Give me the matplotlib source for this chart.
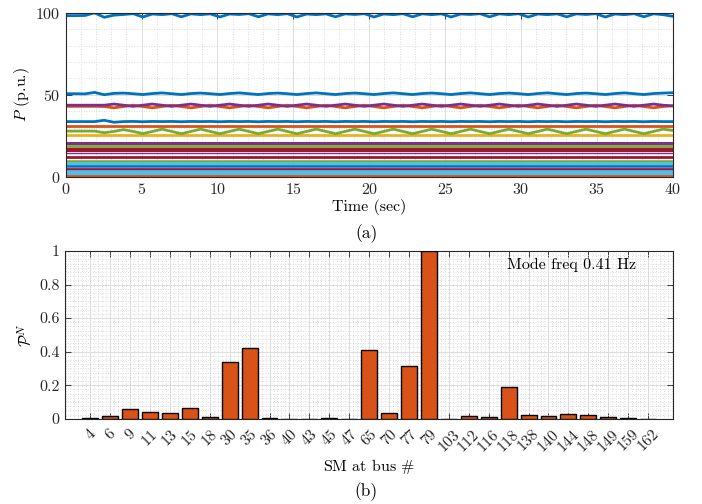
import numpy as np
import matplotlib.pyplot as plt
from matplotlib.ticker import MultipleLocator

plt.rcParams['font.family'] = ['cmr10', 'DejaVu Serif']
plt.rcParams['mathtext.fontset'] = 'cm'
plt.rcParams['axes.formatter.use_mathtext'] = True
plt.rcParams['font.size'] = 11.5

# matlab default colours
blue = '#0072BD'
orange = '#D95319'
yellow = '#EDB120'
purple = '#7E2F8E'
green = '#77AC30'
lblue = '#4DBEEE'
dred = '#A2142F'

# ---- (a) machine powers ----
t_osc = np.linspace(0, 40, 64)   # sample times
p_98 = [98.2, 98.2, 98.3, 99.9, 97.2, 98.5, 98.9, 99.4,
        97.4, 99.2, 98.8, 99.4, 97.5, 99.3, 98.8, 99.3,
        97.4, 99.2, 98.9, 99.4, 97.5, 99.3, 98.8, 99.4,
        97.4, 99.2, 98.8, 99.3, 97.5, 99.3, 98.9, 99.4,
        97.4, 99.2, 98.8, 99.4, 97.5, 99.3, 98.8, 99.3,
        97.4, 99.2, 98.9, 99.4, 97.5, 99.3, 98.8, 99.4,
        97.4, 99.2, 98.8, 99.3, 97.5, 99.3, 98.9, 99.4,
        97.4, 99.2, 98.8, 99.4, 97.5, 99.3, 98.8, 97.8]
p_50 = [50.6, 50.6, 50.5, 51.4, 50.0, 50.8, 51.0, 50.6,
        50.1, 50.7, 51.1, 50.6, 50.1, 50.7, 51.0, 50.6,
        50.1, 50.7, 51.1, 50.6, 50.1, 50.7, 51.0, 50.6,
        50.1, 50.7, 51.1, 50.6, 50.1, 50.7, 51.0, 50.6,
        50.1, 50.7, 51.1, 50.6, 50.1, 50.7, 51.0, 50.6,
        50.1, 50.7, 51.1, 50.6, 50.1, 50.7, 51.0, 50.6,
        50.1, 50.7, 51.1, 50.6, 50.1, 50.7, 51.0, 50.6,
        50.1, 50.7, 51.1, 50.6, 50.1, 50.7, 51.0, 51.2]
p_44 = [43.6, 43.6, 43.6, 43.6, 43.6, 44.3, 43.6, 42.9,
        43.6, 44.3, 43.6, 42.9, 43.6, 44.3, 43.6, 42.9,
        43.6, 44.3, 43.6, 42.9, 43.6, 44.3, 43.6, 42.9,
        43.6, 44.3, 43.6, 42.9, 43.6, 44.3, 43.6, 42.9,
        43.6, 44.3, 43.6, 42.9, 43.6, 44.3, 43.6, 42.9,
        43.6, 44.3, 43.6, 42.9, 43.6, 44.3, 43.6, 42.9,
        43.6, 44.3, 43.6, 42.9, 43.6, 44.3, 43.6, 42.9,
        43.6, 44.3, 43.6, 42.9, 43.6, 44.3, 43.6, 43.2]
p_43 = [42.9, 42.9, 42.9, 42.9, 42.8, 42.0, 42.8, 43.6,
        42.8, 42.0, 42.8, 43.6, 42.8, 42.0, 42.8, 43.6,
        42.8, 42.0, 42.8, 43.6, 42.8, 42.0, 42.8, 43.6,
        42.8, 42.0, 42.8, 43.6, 42.8, 42.0, 42.8, 43.6,
        42.8, 42.0, 42.8, 43.6, 42.8, 42.0, 42.8, 43.6,
        42.8, 42.0, 42.8, 43.6, 42.8, 42.0, 42.8, 43.6,
        42.8, 42.0, 42.8, 43.6, 42.8, 42.0, 42.8, 43.6,
        42.8, 42.0, 42.8, 43.6, 42.8, 42.0, 42.8, 43.2]
p_33 = [33.6, 33.6, 33.6, 33.6, 34.4, 33.2, 33.6, 33.7,
        33.5, 33.7, 33.6, 33.7, 33.5, 33.7, 33.6, 33.7,
        33.5, 33.7, 33.6, 33.7, 33.5, 33.7, 33.6, 33.7,
        33.5, 33.7, 33.6, 33.7, 33.5, 33.7, 33.6, 33.7,
        33.5, 33.7, 33.6, 33.7, 33.5, 33.7, 33.6, 33.7,
        33.5, 33.7, 33.6, 33.7, 33.5, 33.7, 33.6, 33.7,
        33.5, 33.7, 33.6, 33.7, 33.5, 33.7, 33.6, 33.7,
        33.5, 33.7, 33.6, 33.7, 33.5, 33.7, 33.6, 33.6]
p_28 = [27.8, 27.8, 27.8, 27.8, 26.8, 27.6, 28.7, 27.6,
        26.3, 27.6, 29.0, 27.6, 26.2, 27.6, 29.0, 27.6,
        26.2, 27.6, 29.0, 27.6, 26.2, 27.6, 29.0, 27.6,
        26.2, 27.6, 29.0, 27.6, 26.2, 27.6, 29.0, 27.6,
        26.2, 27.6, 29.0, 27.6, 26.2, 27.6, 29.0, 27.6,
        26.2, 27.6, 29.0, 27.6, 26.2, 27.6, 29.0, 27.6,
        26.2, 27.6, 29.0, 27.6, 26.2, 27.6, 29.0, 27.6,
        26.2, 27.6, 29.0, 27.6, 26.2, 27.6, 29.0, 28.2]
osc_series = [p_43, p_44, p_33, p_28, p_50, p_98]
osc_colors = [orange, purple, blue, green, blue, blue]

# machines that stay practically flat
t_flat = [0, 40]
flat_levels = [31.0, 25.2, 20.8, 19.0, 16.9, 16.1, 14.5, 11.8, 9.3, 7.8,
               6.5, 4.8, 2.9, 1.7, 0.3]
flat_colors = [orange, yellow, purple, green, dred, dred, purple, dred, green,
               lblue, blue, dred, lblue, lblue, orange]
flat_widths = [2, 2, 2.2, 2, 2.2, 2.2, 1, 2, 1.8, 2.6, 1.8, 2, 2.6, 2.6, 2]

# ---- (b) participation factors ----
buses = ['4', '6', '9', '11', '13', '15', '18', '30', '35', '36', '40', '43',
         '45', '47', '65', '70', '77', '79', '103', '112', '116', '118', '138',
         '140', '144', '148', '149', '159', '162']
pn = [0.003, 0.016, 0.056, 0.042, 0.034, 0.062, 0.01, 0.336, 0.42, 0.003,
      0.0, 0.0, 0.006, 0.0, 0.41, 0.032, 0.312, 1.0, 0.0, 0.016, 0.01, 0.19,
      0.022, 0.016, 0.026, 0.022, 0.012, 0.006, 0.0]

fig = plt.figure(figsize=(7.02, 5.04), dpi=100)
ax1 = fig.add_axes([0.0936, 0.6494, 0.8647, 0.3254])
ax2 = fig.add_axes([0.093, 0.1692, 0.8657, 0.3327])

for lev, c, w in zip(flat_levels, flat_colors, flat_widths):
    ax1.plot(t_flat, [lev, lev], color=c, lw=w)
for y, c in zip(osc_series, osc_colors):
    ax1.plot(t_osc, y, color=c, lw=2)

ax1.set_xlim(0, 40)
ax1.set_ylim(0, 100)
ax1.set_xticks(np.arange(0, 41, 5))
ax1.set_yticks([0, 50, 100])
ax1.xaxis.set_minor_locator(MultipleLocator(1))
ax1.yaxis.set_minor_locator(MultipleLocator(10))
ax1.set_xlabel('Time (sec)', labelpad=1)
ax1.set_ylabel(r'$P$ (p.u.)', labelpad=2)

x = np.arange(1, len(buses) + 1)
ax2.bar(x, pn, width=0.8, color=orange, edgecolor='black', linewidth=1, zorder=3)
ax2.set_xlim(-0.25, 30.25)
ax2.set_ylim(0, 1)
ax2.set_xticks(x)
ax2.set_xticklabels(buses, rotation=45, ha='center', va='top')
ax2.set_yticks(np.arange(0, 1.01, 0.2))
ax2.set_yticklabels(['0', '0.2', '0.4', '0.6', '0.8', '1'])
ax2.xaxis.set_minor_locator(MultipleLocator(0.2))
ax2.yaxis.set_minor_locator(MultipleLocator(0.025))
ax2.set_xlabel(r'SM at bus $\#$', labelpad=2)
ax2.set_ylabel(r'$\mathcal{P}^N$', labelpad=4)
ax2.text(0.94, 0.96, 'Mode freq 0.41 Hz', transform=ax2.transAxes,
         ha='right', va='top')

for ax in (ax1, ax2):
    ax.set_axisbelow(True)
    ax.grid(which='major', color='#dcdcdc', lw=0.7, ls='-')
    ax.grid(which='minor', color='#d2d2d2', lw=0.6, ls=(0, (1, 2)))
    ax.tick_params(which='major', direction='in', length=4, width=0.6,
                   top=True, right=True, colors='#262626', pad=4)
    ax.tick_params(which='minor', length=0, top=True, right=True)
    for s in ax.spines.values():
        s.set_color('#262626')
        s.set_linewidth(0.8)
ax2.tick_params(axis='x', which='major', pad=6)

fig.text(0.522, 0.536, '(a)', ha='center', va='center', fontsize=12.5)
fig.text(0.522, 0.024, '(b)', ha='center', va='center', fontsize=12.5)

fig.savefig('out.png', dpi=100)
